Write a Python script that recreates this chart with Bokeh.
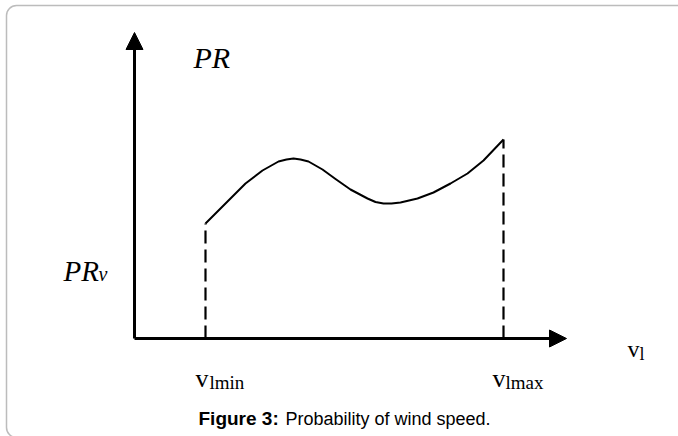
from bokeh.plotting import figure
from bokeh.models import Range1d, Arrow, NormalHead, BoxAnnotation
from bokeh.core.properties import value
from bokeh.embed import file_html
from bokeh.resources import INLINE

# ---- data (arbitrary schematic units) ----
wind_speed = [7.1, 8.1, 9.4, 11.1, 12.8, 14.4, 15.2, 15.9, 16.6, 17.4, 18.8, 20.1,
              21.6, 23.3, 24.1, 24.9, 25.7, 26.6, 28.3, 29.9, 31.6, 33.3, 34.9, 36.9]
probability = [11.5, 12.5, 13.8, 15.5, 16.8, 17.7, 17.9, 18.0, 17.9, 17.7, 16.9, 15.95,
               14.9, 14.0, 13.65, 13.5, 13.5, 13.6, 14.0, 14.6, 15.5, 16.5, 17.8, 19.9]
v_min = 7.1
v_max = 36.9
x_axis_end = 43.2
y_axis_end = 30.6

y_title = "PR"
y_level_main = "PR"
y_level_sub = "v"
x_title_main = "v"
x_title_sub = "l"
tick_main = ["v", "v"]
tick_sub = ["lmin", "lmax"]
caption_bold = "Figure 3:"
caption_text = "Probability of wind speed."

SERIF = value("Liberation Serif")
SANS = value("Liberation Sans")

p = figure(width=678, height=436, output_backend="svg", toolbar_location=None,
           x_range=Range1d(-13.4, 54.4), y_range=Range1d(-9.8, 33.8),
           min_border=0)
p.axis.visible = False
p.grid.visible = False
p.outline_line_color = None
p.background_fill_color = "white"
p.border_fill_color = "white"

# rounded frame around the figure (screen y measured from the bottom)
p.add_layout(BoxAnnotation(left=6, right=720, top=431, bottom=-1,
                           left_units="screen", right_units="screen",
                           top_units="screen", bottom_units="screen",
                           fill_color=None, fill_alpha=0,
                           line_color="#222222", line_width=1.5,
                           border_radius=10))

# axes with arrows
head_kw = dict(size=17, fill_color="black", line_color="black", line_width=1)
p.add_layout(Arrow(end=NormalHead(**head_kw), x_start=0, y_start=0,
                   x_end=0, y_end=y_axis_end, line_width=3, line_color="black"))
p.add_layout(Arrow(end=NormalHead(**head_kw), x_start=0, y_start=0,
                   x_end=x_axis_end, y_end=0, line_width=3, line_color="black"))

# dashed limits
p.segment(x0=[v_min, v_max], y0=[0, 0], x1=[v_min, v_max],
          y1=[probability[0], probability[-1]],
          line_color="black", line_width=2.2, line_dash="13 6")

# curve
p.line(wind_speed, probability, line_color="black", line_width=2, line_join="round")

# labels
p.text(x=[5.9], y=[28.1], text=[y_title], text_font=SERIF, text_font_style="italic",
       text_font_size="30px", text_baseline="alphabetic", text_color="black")
p.text(x=[-7.1], y=[6.8], text=[y_level_main], text_font=SERIF, text_font_style="italic",
       text_font_size="29px", text_baseline="alphabetic", text_color="black")
p.text(x=[-3.6], y=[6.5], text=[y_level_sub], text_font=SERIF, text_font_style="italic",
       text_font_size="20px", text_baseline="alphabetic", text_color="black")

p.text(x=[v_min - 1.0, v_max - 1.1], y=[-3.95, -3.95], text=tick_main, text_font=SERIF,
       text_font_size="26px", text_baseline="alphabetic", text_color="black")
p.text(x=[v_min + 0.4, v_max + 0.2], y=[-4.35, -4.35], text=tick_sub, text_font=SERIF,
       text_font_size="19px", text_baseline="alphabetic", text_color="black")

p.text(x=[49.3], y=[-1.0], text=[x_title_main], text_font=SERIF,
       text_font_size="24px", text_baseline="alphabetic", text_color="black")
p.text(x=[50.5], y=[-1.5], text=[x_title_sub], text_font=SERIF,
       text_font_size="18px", text_baseline="alphabetic", text_color="black")

# caption
p.text(x=[6.4], y=[-8.0], text=[caption_bold], text_font=SANS, text_font_style="bold",
       text_font_size="19px", text_baseline="alphabetic", text_color="black")
p.text(x=[15.1], y=[-8.0], text=[caption_text], text_font=SANS,
       text_font_size="18px", text_baseline="alphabetic", text_color="black")

open("out.html", "w").write(file_html(p, INLINE))
